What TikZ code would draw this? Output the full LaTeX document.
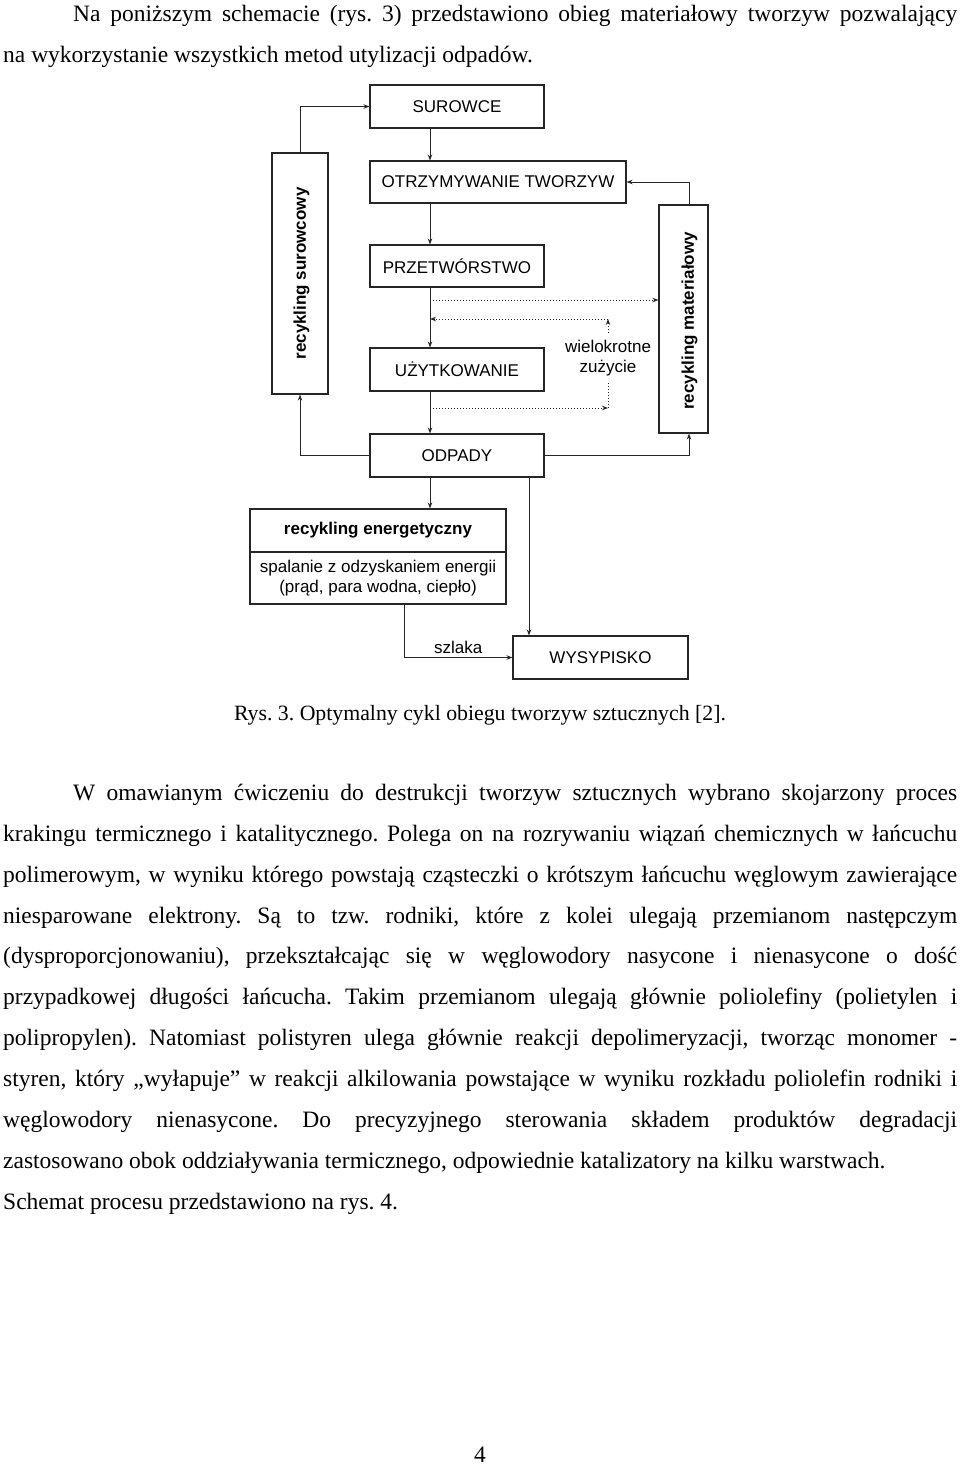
\documentclass[tikz,border=0pt]{standalone}
\usepackage{fontspec}
\setmainfont{Liberation Serif}
\newfontfamily\diagfont{Liberation Sans}
\usetikzlibrary{calc,arrows.meta}
\tikzset {>={Stealth[length=6pt,width=4.5pt]}}
\frenchspacing
\newcommand\dsize{\fontsize{17}{20}\selectfont}
\newcommand\jline[1]{\makebox[954pt][s]{#1}}
\tikzset{
  box/.style={draw=black!85,line width=1.1pt,inner sep=0pt,
    font=\diagfont\dsize},
  boldtext/.style={font=\diagfont\bfseries\dsize},
  flow/.style={draw=black!85,line width=1pt,->},
  reuse/.style={flow,dash pattern=on 1.2pt off 1.8pt},
  textline/.style={anchor=base west,inner sep=0pt,
    font=\fontsize{23.5}{28}\selectfont}}

\begin{document}
\begin{tikzpicture}[x=1pt,y=-1pt]
\useasboundingbox (0,0) rectangle (960,1467);
% text above the figure
\node[textline] (p1a) at (73,21)
  {\makebox[884pt][s]{Na poniższym schemacie (rys. 3) przedstawiono obieg materiałowy tworzyw pozwalający}};
\node[textline] (p1b) at (3,62)
  {na wykorzystanie wszystkich metod utylizacji odpadów.};

% main chain
\coordinate (axis) at (430,0);
\coordinate (dump) at (529,0);
\coordinate (slag) at (404,0);
\node[box,minimum width=174,minimum height=43] (surowce)
  at (457,106.5) {SUROWCE};
\node[box,minimum width=256,minimum height=42] (otrzym)
  at (498,182) {OTRZYMYWANIE TWORZYW};
\node[box,minimum width=174,minimum height=42] (przetw)
  at (457,266) {PRZETWÓRSTWO};
\node[box,minimum width=174,minimum height=43] (uzytk)
  at (457,369.5) {UŻYTKOWANIE};
\node[box,minimum width=174,minimum height=43] (odpady)
  at (457,455.5) {ODPADY};
\node[box,minimum width=256,minimum height=43,boldtext] (energia)
  at (378,530.5) {recykling energetyczny};
\node[box,minimum width=256,minimum height=52,align=center] (spalanie)
  at (378,578) {spalanie z odzyskaniem energii\\(prąd, para wodna, ciepło)};
\node[box,minimum width=175,minimum height=43] (wysypisko)
  at (600.5,657.5) {WYSYPISKO};

% side loops
\node[box,minimum width=56,minimum height=241] (surowcowy)
  at (300,273.5) {};
\node[boldtext,rotate=90] at ([xshift=1.5pt]surowcowy)
  {recykling surowcowy};
\node[box,minimum width=49,minimum height=228] (materialowy)
  at (683.5,319) {};
\node[boldtext,rotate=90] at ([xshift=6pt,yshift=-2pt]materialowy)
  {recykling materiałowy};
\node[font=\diagfont\dsize,align=center,inner xsep=0pt,inner ysep=7pt]
  (wielo) at (608,358) {wielokrotne\\zużycie};

\draw[flow] (surowce.south -| axis) -- (otrzym.north -| axis);
\draw[flow] (otrzym.south -| axis) -- (przetw.north -| axis);
\draw[flow] (przetw.south -| axis) -- (uzytk.north -| axis);
\draw[flow] (uzytk.south -| axis) -- (odpady.north -| axis);
\draw[flow] (odpady.south -| axis) -- (energia.north -| axis);
\draw[flow] (odpady.south -| dump) -- (wysypisko.north -| dump);
\draw[flow] (spalanie.south -| slag) |-
  node[pos=.75,above,font=\diagfont\dsize] {szlaka} (wysypisko.west);
\draw[flow] (surowcowy.north) |- (surowce.west);
\draw[flow] (odpady.west) -| (surowcowy.south);
\draw[flow] (odpady.east) -| ([xshift=5.5pt]materialowy.south);
\draw[flow] ([xshift=5.5pt]materialowy.north) |- (otrzym.east);

% dotted reuse paths
\coordinate (mat) at (430,300);
\coordinate (back) at (608,319);
\coordinate (use) at (608,408);
\draw[reuse] (mat) -- (mat -| materialowy.west);
\draw[reuse] (wielo.north) -- (back);
\draw[reuse] (back) -- (back -| axis);
\draw[reuse,-] (wielo.south) -- (use);
\draw[reuse] (use -| axis) -- (use);

% caption and text below
\node[anchor=base,inner sep=0pt,font=\fontsize{21.8}{26}\selectfont]
  (caption) at (480,720)
  {Rys. 3. Optymalny cykl obiegu tworzyw sztucznych [2].};
\node[textline] (l1) at (73,800)
  {\makebox[884pt][s]{W omawianym ćwiczeniu do destrukcji tworzyw sztucznych wybrano skojarzony proces}};
\node[textline] (l2) at (3,841)
  {\jline{krakingu termicznego i katalitycznego. Polega on na rozrywaniu wiązań chemicznych w łańcuchu}};
\node[textline] (l3) at (3,882)
  {\jline{polimerowym, w wyniku którego powstają cząsteczki o krótszym łańcuchu węglowym zawierające}};
\node[textline] (l4) at (3,923)
  {\jline{niesparowane elektrony. Są to tzw. rodniki, które z kolei ulegają przemianom następczym}};
\node[textline] (l5) at (3,963)
  {\jline{(dysproporcjonowaniu), przekształcając się w węglowodory nasycone i nienasycone o dość}};
\node[textline] (l6) at (3,1004)
  {\jline{przypadkowej długości łańcucha. Takim przemianom ulegają głównie poliolefiny (polietylen i}};
\node[textline] (l7) at (3,1045)
  {\jline{polipropylen). Natomiast polistyren ulega głównie reakcji depolimeryzacji, tworząc monomer -}};
\node[textline] (l8) at (3,1086)
  {\jline{styren, który „wyłapuje” w reakcji alkilowania powstające w wyniku rozkładu poliolefin rodniki i}};
\node[textline] (l9) at (3,1127)
  {\jline{węglowodory nienasycone. Do precyzyjnego sterowania składem produktów degradacji}};
\node[textline] (l10) at (3,1168)
  {zastosowano obok oddziaływania termicznego, odpowiednie katalizatory na kilku warstwach.};
\node[textline] (l11) at (3,1209)
  {Schemat procesu przedstawiono na rys. 4.};
\node[anchor=base,inner sep=0pt,font=\fontsize{23.5}{28}\selectfont]
  (page) at (480,1462) {4};
\end{tikzpicture}
\end{document}
